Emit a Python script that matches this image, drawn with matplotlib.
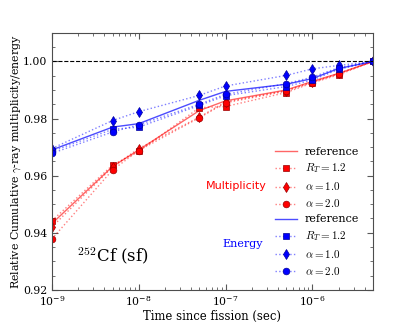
import matplotlib
matplotlib.use("Agg")
import matplotlib.pyplot as plt
from matplotlib.ticker import MultipleLocator

plt.rcParams['font.family'] = 'DejaVu Serif'
plt.rcParams['mathtext.fontset'] = 'cm'

# time since fission (sec)
times = [1e-9, 5e-9, 1e-8, 5e-8, 1e-7, 5e-7, 1e-6, 2e-6, 5e-6]

# multiplicity (red)
mult_ref = [0.9432, 0.9632, 0.9690, 0.9828, 0.9862, 0.9900, 0.9930, 0.9958, 1.0]
mult_rt = [0.9442, 0.9637, 0.9685, 0.9838, 0.9842, 0.9891, 0.9925, 0.9953, 1.0]
mult_a1 = [0.9420, 0.9630, 0.9695, 0.9805, 0.9858, 0.9898, 0.9928, 0.9958, 1.0]
mult_a2 = [0.9378, 0.9620, 0.9688, 0.9803, 0.9855, 0.9896, 0.9926, 0.9956, 1.0]

# energy (blue)
en_ref = [0.9690, 0.9770, 0.9782, 0.9864, 0.9895, 0.9920, 0.9940, 0.9975, 1.0]
en_rt = [0.9685, 0.9762, 0.9770, 0.9846, 0.9880, 0.9912, 0.9935, 0.9972, 1.0]
en_a1 = [0.9695, 0.9793, 0.9824, 0.9881, 0.9914, 0.9951, 0.9974, 0.9986, 1.0]
en_a2 = [0.9678, 0.9753, 0.9778, 0.9850, 0.9885, 0.9922, 0.9945, 0.9978, 1.0]

labels = ['reference', r'$R_T=1.2$', r'$\alpha=1.0$', r'$\alpha=2.0$']
markers = ['s', 'd', 'o']

fig = plt.figure(figsize=(4.15, 3.32), dpi=100)
ax = fig.add_axes([0.125, 0.127, 0.774, 0.774])


def draw_group(ref, variants, col, line_rgba, ref_rgba, edge):
    ax.plot(times, ref, '-', color=ref_rgba, lw=1.0, label=labels[0])
    for vals, m, lab in zip(variants, markers, labels[1:]):
        ax.plot(times, vals, ':', color=line_rgba, lw=1.0, marker=m,
                ms=4.8, mfc=col, mec=edge, mew=0.5, label=lab)


draw_group(mult_ref, [mult_rt, mult_a1, mult_a2], 'red', (1, 0, 0, 0.5),
           (1, 0, 0, 0.6), '#990000')
draw_group(en_ref, [en_rt, en_a1, en_a2], 'blue', (0, 0, 1, 0.5),
           (0, 0, 1, 0.7), '#000099')

ax.axhline(1.0, color='k', ls='--', lw=0.8)

ax.set_xscale('log')
ax.set_xlim(1e-9, 5e-6)
ax.set_ylim(0.92, 1.01)
ax.yaxis.set_major_locator(MultipleLocator(0.02))
ax.yaxis.set_minor_locator(MultipleLocator(0.005))
ax.tick_params(which='both', direction='in', top=True, right=True, labelsize=7.8,
               color='0.35')
ax.tick_params(which='major', length=4)
ax.tick_params(which='minor', length=2)
for s in ax.spines.values():
    s.set_color('0.3')

ax.set_xlabel('Time since fission (sec)', fontsize=8.4, labelpad=1)
ax.set_ylabel(r'Relative Cumulative $\gamma$-ray multiplicity/energy', fontsize=7.9, labelpad=0)

ax.legend(loc='upper left', bbox_to_anchor=(0.681, 0.575), borderaxespad=0,
          frameon=False, fontsize=8, labelspacing=0.45, handlelength=2.0,
          handletextpad=0.7, numpoints=1)

ax.text(0.67, 0.405, 'Multiplicity', color='red', family='DejaVu Sans',
        fontsize=8, ha='right', va='center', transform=ax.transAxes)
ax.text(0.657, 0.179, 'Energy', color='blue', fontsize=8, ha='right',
        va='center', transform=ax.transAxes)
ax.text(0.078, 0.136, r'$^{252}$Cf (sf)', fontsize=12, ha='left', va='center',
        transform=ax.transAxes)

fig.savefig('out.png', dpi=100)
